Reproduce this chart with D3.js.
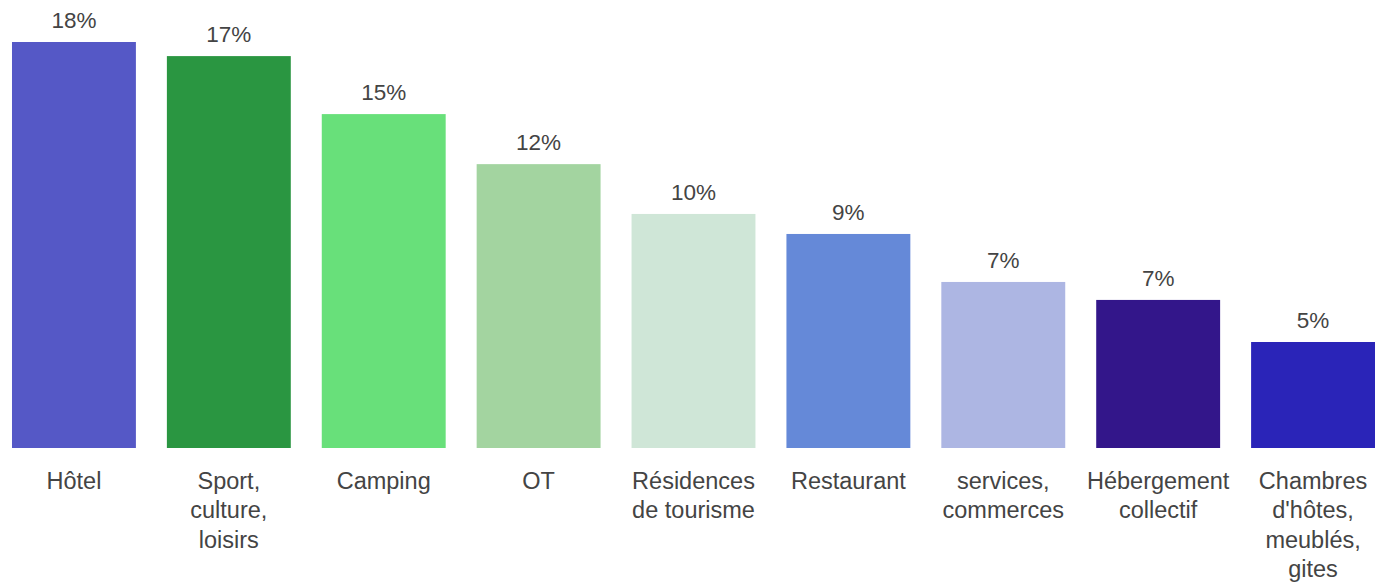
<!DOCTYPE html>
<html><head><meta charset="utf-8">
<script src="https://cdn.jsdelivr.net/npm/d3@7"></script>
<style>body{margin:0;background:#fff;} svg{display:block;}</style>
</head><body>
<svg id="c" width="1375" height="583"></svg>
<script>
const categories = [["Hôtel"],["Sport,","culture,","loisirs"],["Camping"],["OT"],["Résidences","de tourisme"],["Restaurant"],["services,","commerces"],["Hébergement","collectif"],["Chambres","d'hôtes,","meublés,","gites"]];
const values = [17.85, 17.23, 14.68, 12.48, 10.29, 9.41, 7.30, 6.51, 4.66];
const colors = ["#5558c6","#2a9641","#68e07a","#a3d4a0","#cfe6d7","#6589d8","#adb6e3","#33168a","#2a24b8"];

const svg = d3.select("#c");
const idx = d3.range(values.length);
const x = d3.scaleBand().domain(idx).range([-3.5, 1390.5]).paddingInner(0.2).paddingOuter(0.1);
const y = d3.scaleLinear().domain([0, d3.max(values)]).range([448, 42]);

svg.selectAll("rect.bar").data(idx).join("rect")
  .attr("x", i => x(i)).attr("width", x.bandwidth())
  .attr("y", i => y(values[i])).attr("height", i => y(0) - y(values[i]))
  .attr("fill", i => colors[i]);

svg.selectAll("text.val").data(idx).join("text")
  .attr("x", i => x(i) + x.bandwidth()/2).attr("y", i => y(values[i]) - 14)
  .attr("text-anchor","middle").attr("fill","#444")
  .style("font-family","'Liberation Sans', Arial, sans-serif").style("font-size","22.5px")
  .text(i => Math.round(values[i]) + "%");

const lab = svg.selectAll("text.cat").data(idx).join("text")
  .attr("text-anchor","middle").attr("fill","#444")
  .style("font-family","'Liberation Sans', Arial, sans-serif").style("font-size","23.5px");
lab.each(function(i){
  const t = d3.select(this);
  categories[i].forEach((line, k) => {
    t.append("tspan").attr("x", x(i) + x.bandwidth()/2).attr("y", 489 + k*29.3).text(line);
  });
});
</script>
</body></html>
